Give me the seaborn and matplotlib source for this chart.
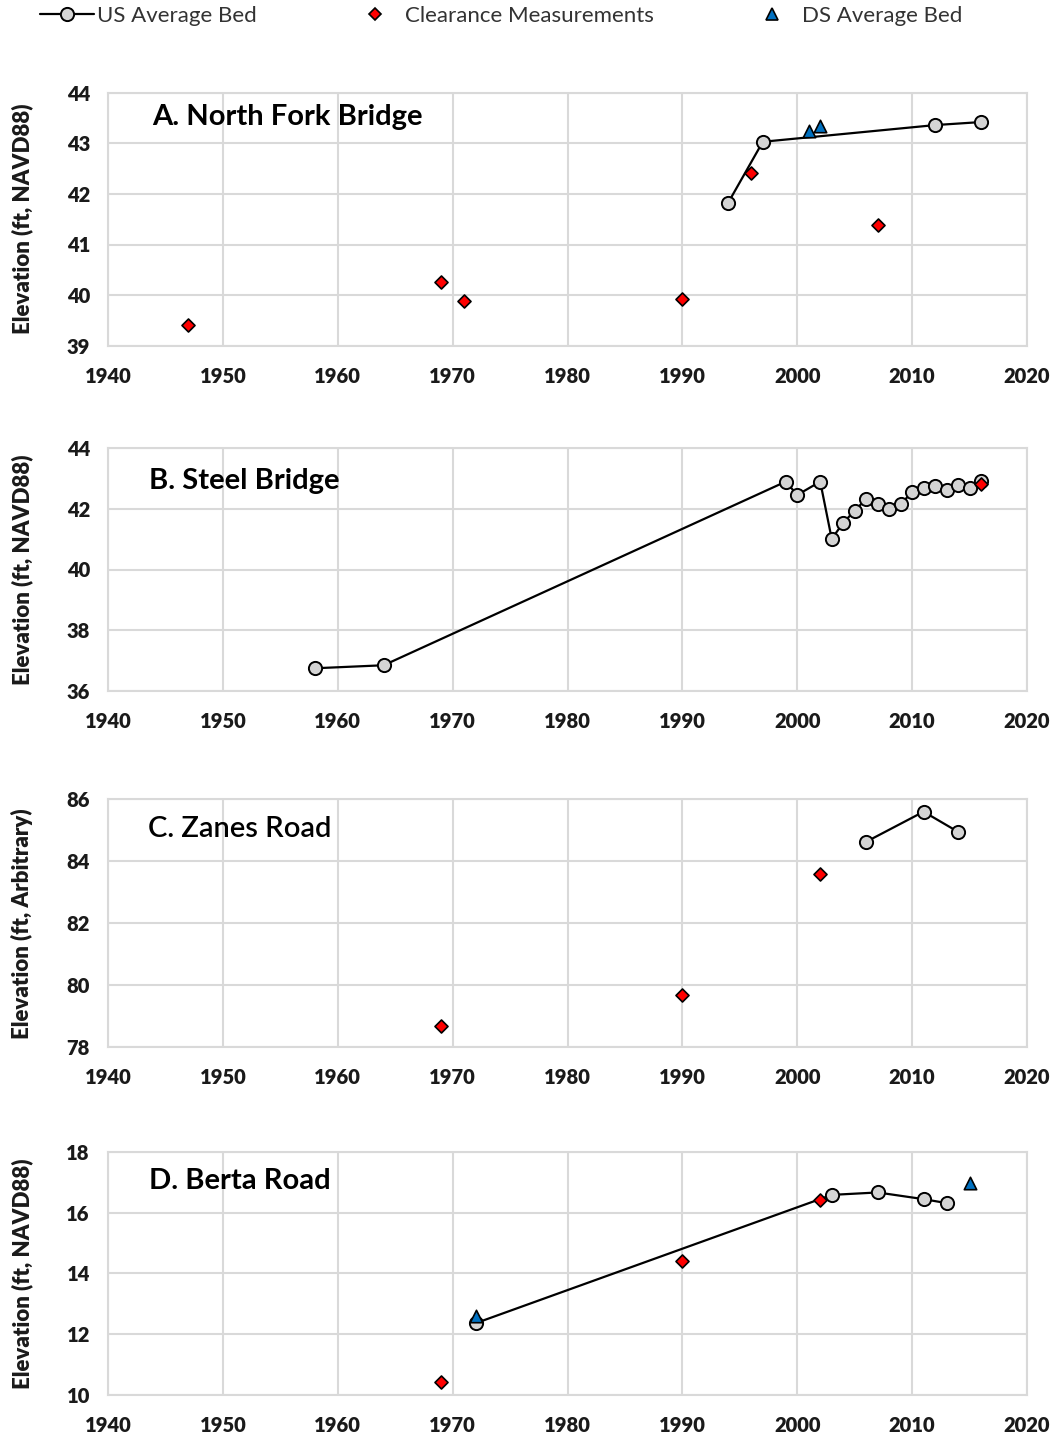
import numpy as np
import pandas as pd
import seaborn as sns
import matplotlib.pyplot as plt
from matplotlib.lines import Line2D

# A. North Fork Bridge
a_us_year = [1994, 1997, 2012, 2016]
a_us_elev = [41.83, 43.03, 43.36, 43.42]
a_cl_year = [1947, 1969, 1971, 1990, 1996, 2007]
a_cl_elev = [39.40, 40.26, 39.89, 39.92, 42.42, 41.39]
a_ds_year = [2001, 2002]
a_ds_elev = [43.25, 43.35]

# B. Steel Bridge
b_us_year = [1958, 1964, 1999, 2000, 2002, 2003, 2004, 2005, 2006, 2007, 2008,
             2009, 2010, 2011, 2012, 2013, 2014, 2015, 2016]
b_us_elev = [36.74, 36.84, 42.90, 42.46, 42.90, 41.01, 41.54, 41.94, 42.33, 42.16,
             42.00, 42.16, 42.55, 42.68, 42.77, 42.62, 42.79, 42.70, 42.93]
b_cl_year = [2016]
b_cl_elev = [42.81]
b_ds_year = []
b_ds_elev = []

# C. Zanes Road
c_us_year = [2006, 2011, 2014]
c_us_elev = [84.63, 85.60, 84.95]
c_cl_year = [1969, 1990, 2002]
c_cl_elev = [78.70, 79.69, 83.60]
c_ds_year = []
c_ds_elev = []

# D. Berta Road
d_us_year = [1972, 2003, 2007, 2011, 2013]
d_us_elev = [12.36, 16.58, 16.66, 16.44, 16.31]
d_cl_year = [1969, 1990, 2002]
d_cl_elev = [10.43, 14.40, 16.40]
d_ds_year = [1972, 2015]
d_ds_elev = [12.60, 16.97]

titles = ["A. North Fork Bridge", "B. Steel Bridge", "C. Zanes Road", "D. Berta Road"]
ylabels = ["Elevation (ft, NAVD88)", "Elevation (ft, NAVD88)",
           "Elevation (ft, Arbitrary)", "Elevation (ft, NAVD88)"]
yranges = [(39, 44, 1), (36, 44, 2), (78, 86, 2), (10, 18, 2)]
x_ticks = list(range(1940, 2021, 10))

sns.set_style("white")
plt.rcParams['font.family'] = ['Lato', 'DejaVu Sans']

gray_fill = '#d4d4d4'
red = '#ff0000'
blue = '#0070c0'
grid_c = '#d9d9d9'
txt_c = '#1a1a1a'

fig = plt.figure(figsize=(10.58, 14.39), dpi=100)

# axes boxes in pixels: top, bottom
boxes = [(92.7, 345.7), (448.3, 690.7), (799.3, 1047.3), (1151.7, 1395.0)]
title_pos = [(0.048, 0.905), (0.045, 0.865), (0.043, 0.88), (0.045, 0.88)]
title_w = ['bold', 'bold', 'semibold', 'bold']

data = [
    (a_us_year, a_us_elev, a_cl_year, a_cl_elev, a_ds_year, a_ds_elev),
    (b_us_year, b_us_elev, b_cl_year, b_cl_elev, b_ds_year, b_ds_elev),
    (c_us_year, c_us_elev, c_cl_year, c_cl_elev, c_ds_year, c_ds_elev),
    (d_us_year, d_us_elev, d_cl_year, d_cl_elev, d_ds_year, d_ds_elev),
]

W, H = 1058, 1439
for i, (uy, ue, cy, ce, dy, de) in enumerate(data):
    top, bot = boxes[i]
    ax = fig.add_axes([108 / W, 1 - bot / H, 919 / W, (bot - top) / H])

    us = pd.DataFrame({'year': uy, 'elev': ue})
    sns.lineplot(data=us, x='year', y='elev', ax=ax, color='black', lw=1.6,
                 marker='o', markersize=9.5, markerfacecolor=gray_fill,
                 markeredgecolor='black', markeredgewidth=1.4, zorder=3)
    if len(cy):
        cl = pd.DataFrame({'year': cy, 'elev': ce})
        sns.scatterplot(data=cl, x='year', y='elev', ax=ax, marker='D', s=44,
                        color=red, edgecolor='black', linewidth=1.2, zorder=4)
    if len(dy):
        ds = pd.DataFrame({'year': dy, 'elev': de})
        sns.scatterplot(data=ds, x='year', y='elev', ax=ax, marker='^', s=80,
                        color=blue, edgecolor='black', linewidth=1.2, zorder=5)

    lo, hi, st = yranges[i]
    ax.set_xlim(1940, 2020)
    ax.set_ylim(lo, hi)
    ax.set_xticks(x_ticks)
    ax.set_yticks(np.arange(lo, hi + 0.1, st))
    ax.set_xlabel('')
    ax.set_ylabel('')
    ax.grid(True, color=grid_c, lw=1.5)
    ax.set_axisbelow(True)
    for sp in ax.spines.values():
        sp.set_color(grid_c)
        sp.set_linewidth(1.5)
    ax.tick_params(axis='both', length=0, labelsize=14.5, colors=txt_c)
    ax.tick_params(axis='x', pad=15)
    ax.tick_params(axis='y', pad=13)
    for lab in ax.get_xticklabels() + ax.get_yticklabels():
        lab.set_fontweight('heavy')
    ax.text(title_pos[i][0], title_pos[i][1], titles[i], transform=ax.transAxes,
            fontsize=21, fontweight=title_w[i], color='black', va='center', ha='left')
    fig.text(22 / W, 1 - (top + bot) / 2 / H, ylabels[i], rotation=90,
             ha='center', va='center', fontsize=16, fontweight='heavy', color=txt_c)

handles = [
    Line2D([], [], color='black', lw=1.6, marker='o', markersize=9.5,
           markerfacecolor=gray_fill, markeredgecolor='black', markeredgewidth=1.4),
    Line2D([], [], ls='none', marker='D', markersize=6.6, markerfacecolor=red,
           markeredgecolor='black', markeredgewidth=1.2),
    Line2D([], [], ls='none', marker='^', markersize=8.9, markerfacecolor=blue,
           markeredgecolor='black', markeredgewidth=1.2),
]
labels = ['US Average Bed', 'Clearance Measurements', 'DS Average Bed']
fig.legend(handles, labels, ncol=3, loc='center left', bbox_to_anchor=(40 / W, 1 - 16 / H),
           frameon=False, fontsize=16, handlelength=2.45, handletextpad=0.12,
           columnspacing=4.1, borderpad=0, borderaxespad=0, labelcolor='#333333')

fig.savefig('out.png', dpi=100, facecolor='white')
